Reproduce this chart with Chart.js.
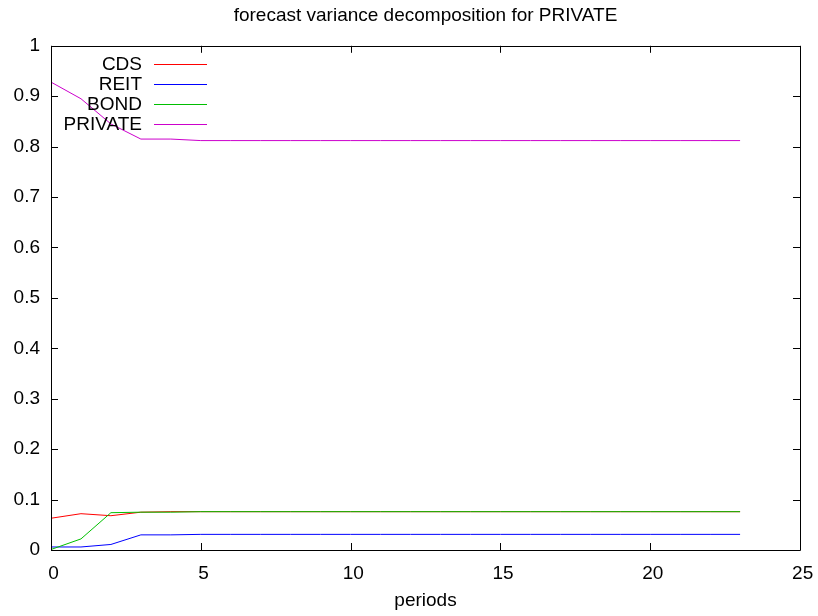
<!DOCTYPE html>
<html>
<head>
<meta charset="utf-8">
<script src="https://cdn.jsdelivr.net/npm/chart.js@4/dist/chart.umd.min.js"></script>
<style>
html,body{margin:0;padding:0;background:#fff;}
#wrap{width:818px;height:616px;}
</style>
</head>
<body>
<div id="wrap"><canvas id="c" width="818" height="616"></canvas></div>
<script>
const periods = [0,1,2,3,4,5,6,7,8,9,10,11,12,13,14,15,16,17,18,19,20,21,22,23];
const cds     = [0.063,0.072,0.068,0.075,0.076,0.076,0.076,0.076,0.076,0.076,0.076,0.076,0.076,0.076,0.076,0.076,0.076,0.076,0.076,0.076,0.076,0.076,0.076,0.076];
const reit    = [0.006,0.006,0.011,0.030,0.030,0.031,0.031,0.031,0.031,0.031,0.031,0.031,0.031,0.031,0.031,0.031,0.031,0.031,0.031,0.031,0.031,0.031,0.031,0.031];
const bond    = [0.001,0.022,0.074,0.075,0.075,0.076,0.076,0.076,0.076,0.076,0.076,0.076,0.076,0.076,0.076,0.076,0.076,0.076,0.076,0.076,0.076,0.076,0.076,0.076];
const priv    = [0.928,0.895,0.845,0.815,0.815,0.812,0.812,0.812,0.812,0.812,0.812,0.812,0.812,0.812,0.812,0.812,0.812,0.812,0.812,0.812,0.812,0.812,0.812,0.812];
const seriesNames = ['CDS','REIT','BOND','PRIVATE'];
const seriesColors = ['#ff0000','#0000ff','#00c000','#cc00cc'];
const seriesData = [cds, reit, bond, priv];
const xTicks = [0,5,10,15,20,25];
const yTicks = [0,0.1,0.2,0.3,0.4,0.5,0.6,0.7,0.8,0.9,1];
const titleText = 'forecast variance decomposition for PRIVATE';
const xLabel = 'periods';

const FONT = '"Liberation Sans", Arial, Helvetica, sans-serif';
const FS = 19;

const datasets = seriesData.map((arr, i) => ({
  label: seriesNames[i],
  data: periods.map((p, j) => ({x: p, y: arr[j]})),
  borderColor: seriesColors[i],
  backgroundColor: seriesColors[i],
  borderWidth: 1,
  pointRadius: 0,
  tension: 0,
  fill: false,
  order: 4 - i
}));

const framePlugin = {
  id: 'frame',
  afterDatasetsDraw(chart) {
    const ctx = chart.ctx;
    const a = chart.chartArea;
    const xs = chart.scales.x, ys = chart.scales.y;
    ctx.save();
    ctx.strokeStyle = '#000';
    ctx.lineWidth = 1;
    ctx.beginPath();
    ctx.rect(Math.round(a.left)+0.5, Math.round(a.top)+0.5, Math.round(a.right-a.left), Math.round(a.bottom-a.top));
    ctx.stroke();
    const L = 7;
    ctx.beginPath();
    xTicks.forEach(v => {
      const px = Math.round(xs.getPixelForValue(v)) + 0.5;
      ctx.moveTo(px, a.bottom); ctx.lineTo(px, a.bottom - L);
      ctx.moveTo(px, a.top); ctx.lineTo(px, a.top + L);
    });
    yTicks.forEach(v => {
      const py = Math.round(ys.getPixelForValue(v)) + 0.5;
      ctx.moveTo(a.left, py); ctx.lineTo(a.left + L, py);
      ctx.moveTo(a.right, py); ctx.lineTo(a.right - L, py);
    });
    ctx.stroke();
    // legend
    ctx.font = FS + 'px ' + FONT;
    ctx.textAlign = 'right';
    ctx.textBaseline = 'middle';
    seriesNames.forEach((n, i) => {
      const y = 64.5 + 20 * i;
      ctx.fillStyle = '#000';
      ctx.fillText(n, 142, y);
      ctx.strokeStyle = seriesColors[i];
      ctx.beginPath();
      ctx.moveTo(154, y); ctx.lineTo(207, y);
      ctx.stroke();
    });
    ctx.restore();
  }
};

new Chart(document.getElementById('c'), {
  type: 'line',
  data: { datasets },
  plugins: [framePlugin],
  options: {
    responsive: false,
    animation: false,
    events: [],
    layout: { padding: { left: 0, right: 18, top: 0, bottom: 0 } },
    plugins: {
      legend: { display: false },
      tooltip: { enabled: false },
      title: {
        display: true,
        text: titleText,
        fullSize: false,
        color: '#000',
        font: { family: FONT, size: FS, weight: 'normal' },
        padding: { top: 4, bottom: 19 }
      }
    },
    scales: {
      x: {
        type: 'linear',
        min: 0, max: 25,
        afterBuildTicks(s) { s.ticks = xTicks.map(v => ({value: v})); },
        afterFit(s) { s.height = 66; s.paddingLeft = 0; s.paddingRight = 0; },
        grid: { display: false, drawTicks: false },
        border: { display: false },
        ticks: { color: '#000', font: { family: FONT, size: FS }, padding: 12, maxRotation: 0, autoSkip: false, callback: v => ' ' + String(v) },
        title: { display: true, text: xLabel, color: '#000', font: { family: FONT, size: FS }, padding: { top: 0, bottom: 4 } }
      },
      y: {
        type: 'linear',
        min: 0, max: 1,
        afterBuildTicks(s) { s.ticks = yTicks.map(v => ({value: v})); },
        afterFit(s) { s.width = 51; s.paddingTop = 0; s.paddingBottom = 0; },
        grid: { display: false, drawTicks: false },
        border: { display: false },
        ticks: { color: '#000', font: { family: FONT, size: FS }, padding: 11, autoSkip: false, callback: v => String(Math.round(v*10)/10) }
      }
    }
  }
});
</script>
</body>
</html>
